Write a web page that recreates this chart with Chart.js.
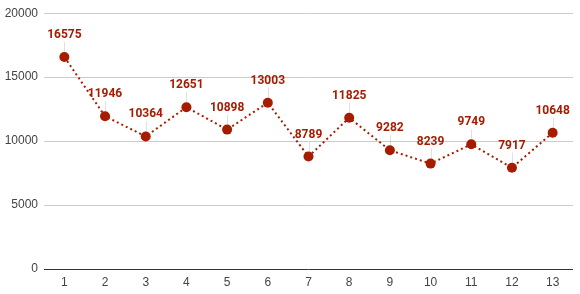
<!DOCTYPE html>
<html>
<head>
<meta charset="utf-8">
<script src="https://cdn.jsdelivr.net/npm/chart.js@4/dist/chart.umd.min.js"></script>
<style>
  html, body { margin: 0; padding: 0; background: #fff; }
  #wrap { width: 580px; height: 294px; }
</style>
</head>
<body>
<div id="wrap"><canvas id="myChart" width="580" height="294"></canvas></div>
<script>
/* data */
var categories = ["1", "2", "3", "4", "5", "6", "7", "8", "9", "10", "11", "12", "13"];
var values = [16575, 11946, 10364, 12651, 10898, 13003, 8789, 11825, 9282, 8239, 9749, 7917, 10648];
var yTicks = [0, 5000, 10000, 15000, 20000];

var red = "#a61c00";

// value labels above each point with a faint stem, plus the dark baseline
var valueLabels = {
  id: 'valueLabels',
  beforeDatasetsDraw: function(chart){
    var ctx = chart.ctx, area = chart.chartArea;
    var y0 = Math.round(chart.scales.y.getPixelForValue(0)) + 0.5;
    ctx.save();
    ctx.strokeStyle = "#333";
    ctx.lineWidth = 1;
    ctx.beginPath();
    ctx.moveTo(area.left, y0);
    ctx.lineTo(area.right, y0);
    ctx.stroke();
    ctx.restore();
  },
  afterDatasetsDraw: function(chart){
    var ctx = chart.ctx;
    var meta = chart.getDatasetMeta(0);
    ctx.save();
    meta.data.forEach(function(pt, i){
      var ly = pt.y - 22;
      ctx.strokeStyle = "rgba(0,0,0,0.12)";
      ctx.lineWidth = 1;
      ctx.beginPath();
      ctx.moveTo(Math.round(pt.x) + 0.5, ly + 7);
      ctx.lineTo(Math.round(pt.x) + 0.5, pt.y - 5);
      ctx.stroke();
      ctx.fillStyle = red;
      ctx.font = "bold 12px Roboto, Arial, sans-serif";
      ctx.textAlign = "center";
      ctx.textBaseline = "middle";
      ctx.fillText(String(values[i]), pt.x, ly);
    });
    ctx.restore();
  }
};

var ctx = document.getElementById('myChart').getContext('2d');
var plot = new Chart(ctx, {
  type: 'line',
  data: {
    labels: categories,
    datasets: [{
      data: values,
      borderColor: red,
      backgroundColor: red,
      borderWidth: 2,
      borderDash: [2, 3],
      fill: false,
      tension: 0,
      pointRadius: 5,
      pointBackgroundColor: red,
      pointBorderWidth: 0
    }]
  },
  options: {
    responsive: false,
    animation: false,
    layout: { padding: { top: 13, right: 7, left: 0, bottom: 0 } },
    plugins: {
      legend: { display: false },
      tooltip: { enabled: false }
    },
    scales: {
      x: {
        offset: true,
        grid: { display: false, drawTicks: false },
        border: { display: false },
        ticks: { color: "#444", font: { family: "Arial", size: 12 }, padding: 6 },
        afterFit: function(s){ s.height = 25; }
      },
      y: {
        min: 0,
        max: 20000,
        afterBuildTicks: function(s){ s.ticks = yTicks.map(function(v){ return { value: v }; }); },
        grid: {
          color: function(c){ return c.tick && c.tick.value === 0 ? "rgba(0,0,0,0)" : "#ccc"; },
          drawTicks: false
        },
        border: { display: false },
        ticks: {
          color: "#444",
          font: { family: "Arial", size: 12 },
          padding: 6,
          callback: function(v){ return String(v); }
        },
        afterFit: function(s){ s.width = 44; }
      }
    }
  },
  plugins: [valueLabels]
});
</script>
</body>
</html>
